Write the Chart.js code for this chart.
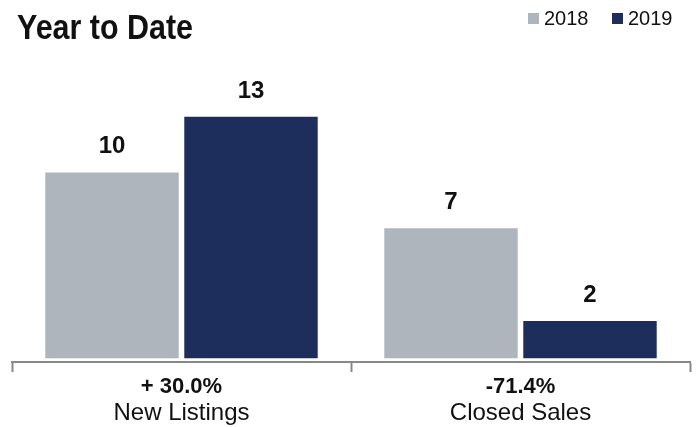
<!DOCTYPE html>
<html>
<head>
<meta charset="utf-8">
<script src="https://cdn.jsdelivr.net/npm/chart.js@4/dist/chart.umd.min.js"></script>
<style>
  html, body { margin: 0; padding: 0; background: #fff; }
  #wrap { width: 696px; height: 427px; }
</style>
</head>
<body>
<div id="wrap"><canvas id="ytd-chart" width="696" height="427"></canvas></div>
<script>
// Year to date comparison: listings and sales
var categories = ["New Listings", "Closed Sales"];
var changes = ["+ 30.0%", "-71.4%"];
var years = ["2018", "2019"];
var values2018 = [10, 7];
var values2019 = [13, 2];
var yearColors = ["#aeb5bc", "#1e2e5c"];

var titleText = "Year to Date";

// Titre + légende dessinés à la main (même ligne)
var headerPlugin = {
  id: "header",
  afterDraw: function (chart) {
    var ctx = chart.ctx;
    ctx.save();
    ctx.fillStyle = "#111";
    // titre gras un peu condensé
    ctx.save();
    ctx.font = "bold 35px 'Liberation Sans', Arial, sans-serif";
    ctx.textAlign = "left";
    ctx.textBaseline = "alphabetic";
    ctx.translate(17, 39);
    ctx.scale(0.87, 1);
    ctx.fillText(titleText, 0, 0);
    ctx.restore();

    // légende en haut à droite
    ctx.font = "20px 'Liberation Sans', Arial, sans-serif";
    var x = 528;
    years.forEach(function (year, i) {
      ctx.fillStyle = yearColors[i];
      ctx.fillRect(x, 13, 11, 11);
      ctx.fillStyle = "#111";
      ctx.fillText(year, x + 16, 25);
      x += 84;
    });
    ctx.restore();
  },
};

// Valeurs au-dessus des barres
var valueLabelsPlugin = {
  id: "valueLabels",
  afterDatasetsDraw: function (chart) {
    var ctx = chart.ctx;
    ctx.save();
    ctx.fillStyle = "#111";
    ctx.font = "bold 24px 'Liberation Sans', Arial, sans-serif";
    ctx.textAlign = "center";
    ctx.textBaseline = "alphabetic";
    chart.data.datasets.forEach(function (ds, di) {
      var meta = chart.getDatasetMeta(di);
      meta.data.forEach(function (bar, i) {
        ctx.fillText(String(ds.data[i]), bar.x, bar.y - 19);
      });
    });
    ctx.restore();
  },
};

// Libellés des catégories : variation en gras + nom
var categoryLabelsPlugin = {
  id: "categoryLabels",
  afterDraw: function (chart) {
    var ctx = chart.ctx;
    var xScale = chart.scales.x;
    ctx.save();
    ctx.fillStyle = "#111";
    ctx.textAlign = "center";
    ctx.textBaseline = "alphabetic";
    categories.forEach(function (name, i) {
      var cx = xScale.getPixelForValue(i);
      ctx.font = "bold 22px 'Liberation Sans', Arial, sans-serif";
      ctx.fillText(changes[i], cx, 393);
      ctx.font = "24px 'Liberation Sans', Arial, sans-serif";
      ctx.fillText(name, cx, 420);
    });
    ctx.restore();
  },
};

new Chart(document.getElementById("ytd-chart"), {
  type: "bar",
  data: {
    labels: categories,
    datasets: [
      {
        label: years[0],
        data: values2018,
        backgroundColor: yearColors[0],
        categoryPercentage: 0.82,
        barPercentage: 0.96,
      },
      {
        label: years[1],
        data: values2019,
        backgroundColor: yearColors[1],
        categoryPercentage: 0.82,
        barPercentage: 0.96,
      },
    ],
  },
  options: {
    responsive: false,
    animation: false,
    layout: {
      padding: { top: 61, left: 12, right: 6, bottom: 55 },
    },
    plugins: {
      legend: { display: false },
      title: { display: false },
      tooltip: { enabled: false },
    },
    scales: {
      x: {
        offset: true,
        grid: {
          offset: true,
          drawOnChartArea: false,
          drawTicks: true,
          tickLength: 10,
          tickWidth: 2,
          tickColor: "#888",
        },
        border: { display: true, color: "#888", width: 2 },
        ticks: { display: false },
      },
      y: {
        display: false,
        min: -0.2,
        max: 16,
      },
    },
  },
  plugins: [headerPlugin, valueLabelsPlugin, categoryLabelsPlugin],
});
</script>
</body>
</html>
